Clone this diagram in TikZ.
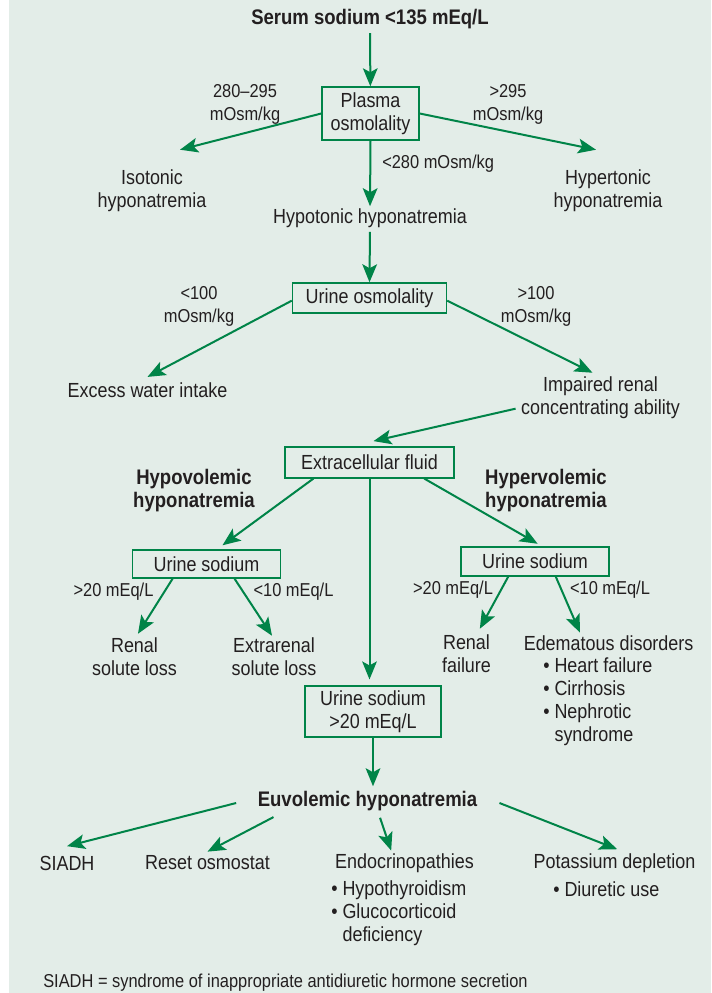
\documentclass[tikz,border=0pt]{standalone}
\usepackage{fontspec}
\setmainfont{Liberation Sans}[FakeStretch=0.88]
\usetikzlibrary{arrows.meta}

\definecolor{hnGreen}{RGB}{0,132,72}
\definecolor{hnBack}{RGB}{227,237,232}
\definecolor{hnText}{RGB}{35,31,32}

\tikzset{
  txt/.style={align=center, inner sep=0pt, text=hnText},
  lbl/.style={txt, font=\fontsize{14}{17.25}\selectfont},
  hd/.style={txt, font=\fontsize{15.8}{17.25}\selectfont\bfseries},
  box/.style={txt, draw=hnGreen, line width=1.1pt},
  arr/.style={draw=hnGreen, line width=1.5pt,
    -{Stealth[length=13.5pt,width=11pt,inset=3pt]}},
}

\begin{document}
\begin{tikzpicture}[x=0.75pt, y=-0.75pt, font=\fontsize{15.3}{17.25}\selectfont]
    \useasboundingbox (0,0) rectangle (711,993);
    \fill[hnBack] (9,0) rectangle (711,993);

    % plasma osmolality
    \node[hd] (title) at (370,19) {Serum sodium <135 mEq/L};
    \node[box, minimum width=72.75pt, minimum height=39.75pt] (plasma) at (370.5,113.5) {Plasma\\osmolality};
    \node[lbl] (lowmid) at (245,104) {280–295\\mOsm/kg};
    \node[lbl] (high) at (508,104) {>295\\mOsm/kg};
    \node[lbl, anchor=west] (low) at (382,164) {<280 mOsm/kg};
    \node[txt] (iso) at (152,191) {Isotonic\\hyponatremia};
    \node[txt] (hyper) at (608,191) {Hypertonic\\hyponatremia};
    \node[txt] (hypo) at (370,218) {Hypotonic hyponatremia};

    % urine osmolality
    \node[box, minimum width=115.5pt, minimum height=22.5pt] (urosm) at (369.5,298) {Urine osmolality};
    \node[lbl] (uolow) at (199,306) {<100\\mOsm/kg};
    \node[lbl] (uohigh) at (536,306) {>100\\mOsm/kg};
    \node[txt] (water) at (147.5,390) {Excess water intake};
    \node[txt] (impaired) at (600.5,398) {Impaired renal\\concentrating ability};

    % extracellular fluid
    \node[box, minimum width=127pt, minimum height=23pt] (ecf) at (369.5,462.5) {Extracellular fluid};
    \node[hd] (hypovol) at (194,491) {Hypovolemic\\hyponatremia};
    \node[hd] (hypervol) at (546,491) {Hypervolemic\\hyponatremia};
    \node[box, minimum width=111pt, minimum height=21pt] (usL) at (206.5,564) {Urine sodium};
    \node[box, minimum width=111pt, minimum height=21.5pt] (usR) at (535,561.5) {Urine sodium};
    \node[box, minimum width=102pt, minimum height=38pt] (usM) at (373,711.5) {Urine sodium\\>20 mEq/L};
    \node[lbl] (usLhigh) at (113.5,592) {>20 mEq/L};
    \node[lbl] (usLlow) at (293.5,592) {<10 mEq/L};
    \node[lbl] (usRhigh) at (453,590) {>20 mEq/L};
    \node[lbl] (usRlow) at (610,590) {<10 mEq/L};
    \node[txt] (renalL) at (134.5,657) {Renal\\solute loss};
    \node[txt] (extrarenal) at (274,657) {Extrarenal\\solute loss};
    \node[txt] (renalF) at (466.5,654) {Renal\\failure};
    \node[txt] (edema) at (608.6,643) {Edematous disorders};
    \node[txt, align=left, anchor=west] (edlist) at (543,701.5)
      {•\ Heart failure\\•\ Cirrhosis\\•\ Nephrotic\\\hphantom{•\ }syndrome};

    % euvolemic
    \node[hd] (euvo) at (367.5,801) {Euvolemic hyponatremia};
    \node[txt] (siadh) at (67,863) {SIADH};
    \node[txt] (reset) at (207.5,863) {Reset osmostat};
    \node[txt] (endo) at (404.5,863) {Endocrinopathies};
    \node[txt, align=left, anchor=west] (endolist) at (331,913.5)
      {•\ Hypothyroidism\\•\ Glucocorticoid\\\hphantom{•\ }deficiency};
    \node[txt] (pot) at (614.5,863) {Potassium depletion};
    \node[txt, align=left, anchor=west] (potlist) at (553,889) {•\ Diuretic use};
    \node[lbl, anchor=west] (note) at (43,983)
      {SIADH = syndrome of inappropriate antidiuretic hormone secretion};

    % connectors
    \draw[arr, shorten <=3pt] (title) -- (plasma);
    \draw[arr] (plasma.west) -- ([xshift=21pt,yshift=15pt]iso.north);
    \draw[arr] (plasma.east) -- ([xshift=-9pt,yshift=15pt]hyper.north);
    \draw[arr, shorten >=1.5pt] (plasma.south) -- (hypo.north);
    \draw[arr, shorten <=3pt] (hypo.south) -- (urosm.north);
    \draw[arr] ([yshift=-2pt]urosm.west) -- ([yshift=4pt]water.north);
    \draw[arr] ([yshift=-2pt]urosm.east) -- ([xshift=-6pt,yshift=3pt]impaired.north);
    \draw[arr] ([xshift=-4pt,yshift=-8pt]impaired.west) -- ([xshift=3pt,yshift=4pt]ecf.north);
    \draw[arr] ([xshift=22pt]ecf.south west) -- ([xshift=12pt,yshift=3pt]usL.north);
    \draw[arr] ([xshift=-23pt]ecf.south east) -- ([xshift=2pt,yshift=2pt]usR.north);
    \draw[arr, shorten >=4.5pt] (ecf.south) -- (ecf.south |- usM.north);
    \draw[arr] ([xshift=30.6pt]usL.south west) -- ([xshift=2.6pt,yshift=3pt]renalL.north);
    \draw[arr] ([xshift=-35pt]usL.south east) -- ([xshift=-1.5pt,yshift=1.5pt]extrarenal.north);
    \draw[arr] ([xshift=36pt]usR.south west) -- ([xshift=10pt,yshift=4.5pt]renalF.north);
    \draw[arr] ([xshift=-40.5pt]usR.south east) -- ([xshift=-21.5pt,yshift=2pt]edema.north);
    \draw[arr, shorten >=3.5pt] (usM.south) -- (usM.south |- euvo.north);
    \draw[arr] ([xshift=-16pt,yshift=-1.5pt]euvo.west) -- ([yshift=7pt]siadh.north);
    \draw[arr] ([xshift=12pt,yshift=-4.5pt]euvo.south west) -- ([yshift=3pt]reset.north);
    \draw[arr] ([xshift=9.4pt,yshift=-5pt]euvo.south) -- ([xshift=-10pt,yshift=2pt]endo.north);
    \draw[arr] ([xshift=16.5pt,yshift=-1.5pt]euvo.east) -- ([xshift=2pt,yshift=3pt]pot.north);
\end{tikzpicture}
\end{document}
